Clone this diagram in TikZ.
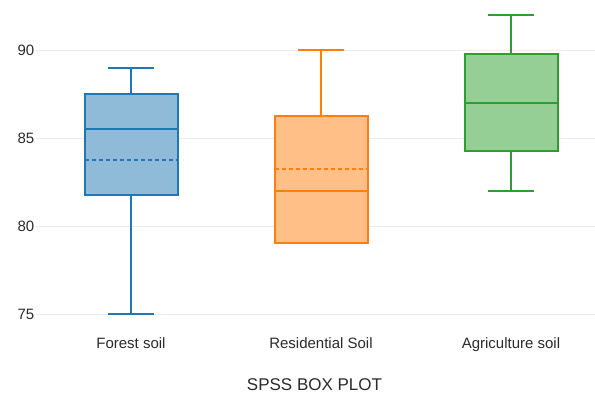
\documentclass[tikz,border=0pt]{standalone}
\usepackage{fontspec}
\setmainfont{Liberation Sans}
\definecolor{gridc}{HTML}{EBEBEB}
\definecolor{txt}{HTML}{2B2B2B}
\definecolor{cblue}{HTML}{1F77B4}
\definecolor{fblue}{HTML}{8FBBD9}
\definecolor{corange}{HTML}{FF7F0E}
\definecolor{forange}{HTML}{FFBF86}
\definecolor{cgreen}{HTML}{2CA02C}
\definecolor{fgreen}{HTML}{95CF95}
\begin{document}
\begin{tikzpicture}[x=1pt,y=-1pt,
  grid/.style={draw=gridc,line width=1pt},
  tick/.style={anchor=east,text=txt,font=\fontsize{15}{15}\selectfont,inner sep=0pt},
  cat/.style={anchor=base,text=txt,font=\fontsize{15}{15}\selectfont,inner sep=0pt},
  ttl/.style={anchor=base,text=txt,font=\fontsize{17}{17}\selectfont,inner sep=0pt},
  boxline/.style={line width=2pt},
  meanline/.style={line width=2pt,dash pattern=on 4pt off 3pt}]
\useasboundingbox (0,0) rectangle (595,400);
\fill[white] (0,0) rectangle (595,400);

% horizontal grid and value labels
\foreach \v/\y in {90/50,85/138,80/226,75/314}{
  \draw[grid] (36,\y) -- (595,\y);
  \node[tick] (t\v) at (34.5,\y+0.5) {\v};
}

% box plot: centre, colour, fill, whisker low, q1, median, mean, q3, whisker high
\newcommand{\boxplt}[9]{%
  \draw[#1,boxline] (#2-23,#4) -- (#2+23,#4);
  \draw[#1,boxline] (#2,#4) -- (#2,#5);
  \draw[#1,boxline] (#2-23,#9) -- (#2+23,#9);
  \draw[#1,boxline] (#2,#9) -- (#2,#8);
  \filldraw[draw=#1,fill=#3,boxline] (#2-46.5,#5) rectangle (#2+46.5,#8);
  \draw[#1,boxline] (#2-46.5,#6) -- (#2+46.5,#6);
  \draw[#1,meanline] (#2-46.5,#7) -- (#2+46.5,#7);
}

% Forest soil
\boxplt{cblue}{131.3}{fblue}{313.7}{195.3}{129}{160.3}{94.3}{67.7}
% Residential Soil
\boxplt{corange}{321}{forange}{243}{243}{190.7}{169}{116.3}{50.3}
% Agriculture soil
\boxplt{cgreen}{511}{fgreen}{191}{151}{103}{103}{54.3}{15}

% category labels and title
\node[cat] (l1) at (131,348) {Forest soil};
\node[cat] (l2) at (321,348) {Residential Soil};
\node[cat] (l3) at (511,348) {Agriculture soil};
\node[ttl] (title) at (314.5,390) {SPSS BOX PLOT};
\end{tikzpicture}
\end{document}
